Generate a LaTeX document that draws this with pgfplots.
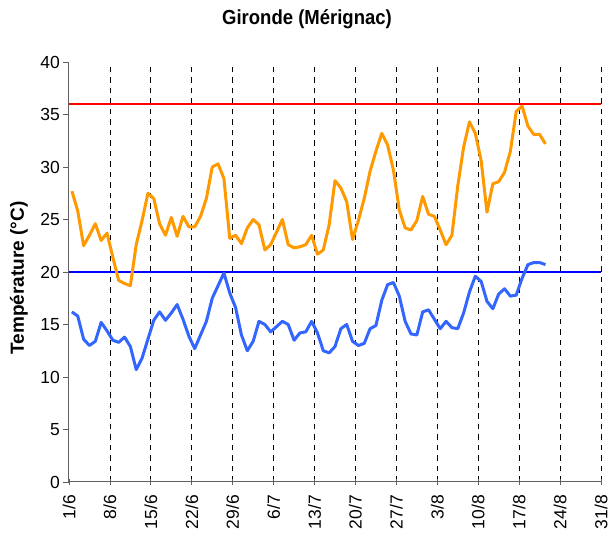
\documentclass[border=0pt]{standalone}
\usepackage{pgfplots}
\pgfplotsset{compat=1.18}
\usepackage{pgfplotstable}
\usepackage{fontspec}
\setmainfont{Liberation Sans}
\definecolor{orangeS}{HTML}{FF9900}
\definecolor{blueS}{HTML}{3366FF}
\definecolor{axisgray}{HTML}{606060}
\pgfplotstableread{
d tmax tmin
0 27.7 16.2
1 25.8 15.8
2 22.5 13.6
3 23.5 13.0
4 24.6 13.4
5 23.0 15.2
6 23.7 14.4
7 21.4 13.5
8 19.2 13.3
9 18.9 13.8
10 18.7 12.9
11 22.6 10.7
12 24.9 11.8
13 27.5 13.6
14 27.0 15.4
15 24.6 16.2
16 23.5 15.4
17 25.2 16.1
18 23.4 16.9
19 25.3 15.5
20 24.3 13.9
21 24.3 12.7
22 25.3 14.0
23 27.0 15.3
24 30.0 17.5
25 30.3 18.7
26 28.9 19.9
27 23.2 18.0
28 23.5 16.6
29 22.7 14.0
30 24.2 12.5
31 25.0 13.4
32 24.5 15.3
33 22.1 15.0
34 22.6 14.3
35 23.8 14.8
36 25.0 15.3
37 22.6 15.0
38 22.3 13.5
39 22.4 14.2
40 22.6 14.3
41 23.5 15.3
42 21.7 14.2
43 22.1 12.5
44 24.5 12.3
45 28.7 12.9
46 28.0 14.6
47 26.7 15.0
48 23.1 13.4
49 24.9 13.0
50 27.0 13.2
51 29.6 14.6
52 31.5 14.9
53 33.2 17.3
54 32.1 18.8
55 29.7 19.0
56 25.9 17.7
57 24.2 15.3
58 24.0 14.1
59 24.9 14.0
60 27.2 16.2
61 25.5 16.4
62 25.3 15.5
63 24.0 14.6
64 22.6 15.3
65 23.5 14.7
66 28.2 14.6
67 31.9 16.1
68 34.3 18.1
69 33.2 19.6
70 30.6 19.1
71 25.7 17.2
72 28.4 16.5
73 28.6 17.9
74 29.5 18.4
75 31.5 17.7
76 35.3 17.8
77 35.8 19.4
78 33.9 20.7
79 33.1 20.9
80 33.1 20.9
81 32.2 20.7
}\datatable
\begin{document}
\begin{tikzpicture}
\path[use as bounding box] (-69pt,-51pt) rectangle (545pt,482pt);
\begin{axis}[
  at={(0,0)}, anchor=south west,
  scale only axis, width=532pt, height=420pt,
  xmin=0, xmax=91, ymin=0, ymax=40,
  axis x line*=bottom, axis y line*=left,
  axis line style={axisgray, line width=1pt},
  xtick={7,14,...,91},
  xticklabels={8/6,15/6,22/6,29/6,6/7,13/7,20/7,27/7,3/8,10/8,17/8,24/8,31/8},
  extra x ticks={0},
  extra x tick labels={1/6},
  extra x tick style={grid=none},
  ytick={0,5,...,40},
  tick style={axisgray, line width=0.8pt},
  major tick length=6pt,
  xtick align=center, ytick align=outside,
  tick label style={font=\fontsize{17.5}{17.5}\selectfont, text=black},
  /pgf/number format/assume math mode=true,
  xticklabel style={rotate=90, anchor=east, inner sep=1pt},
  xticklabel shift=9pt,
  yticklabel style={inner sep=3pt},
  xmajorgrids,
  major x grid style={black, dash pattern=on 5.5pt off 5pt, line width=0.8pt},
  clip=false,
]
\addplot[red, line width=1.2pt] coordinates {(0,36) (91,36)};
\addplot[blue, line width=1.5pt] coordinates {(0,20) (91,20)};
\addplot[orangeS, line width=3pt, line join=round] table[x expr=\thisrow{d}+0.5, y=tmax] {\datatable};
\addplot[blueS, line width=3pt, line join=round] table[x expr=\thisrow{d}+0.5, y=tmin] {\datatable};
\end{axis}
\node[font=\fontsize{18.5}{18.5}\selectfont\bfseries, yscale=1.1] at (238pt,463pt) {Gironde (Mérignac)};
\node[font=\fontsize{19}{19}\selectfont\bfseries, rotate=90] at (-50pt,204pt) {Température (°C)};
\end{tikzpicture}
\end{document}
